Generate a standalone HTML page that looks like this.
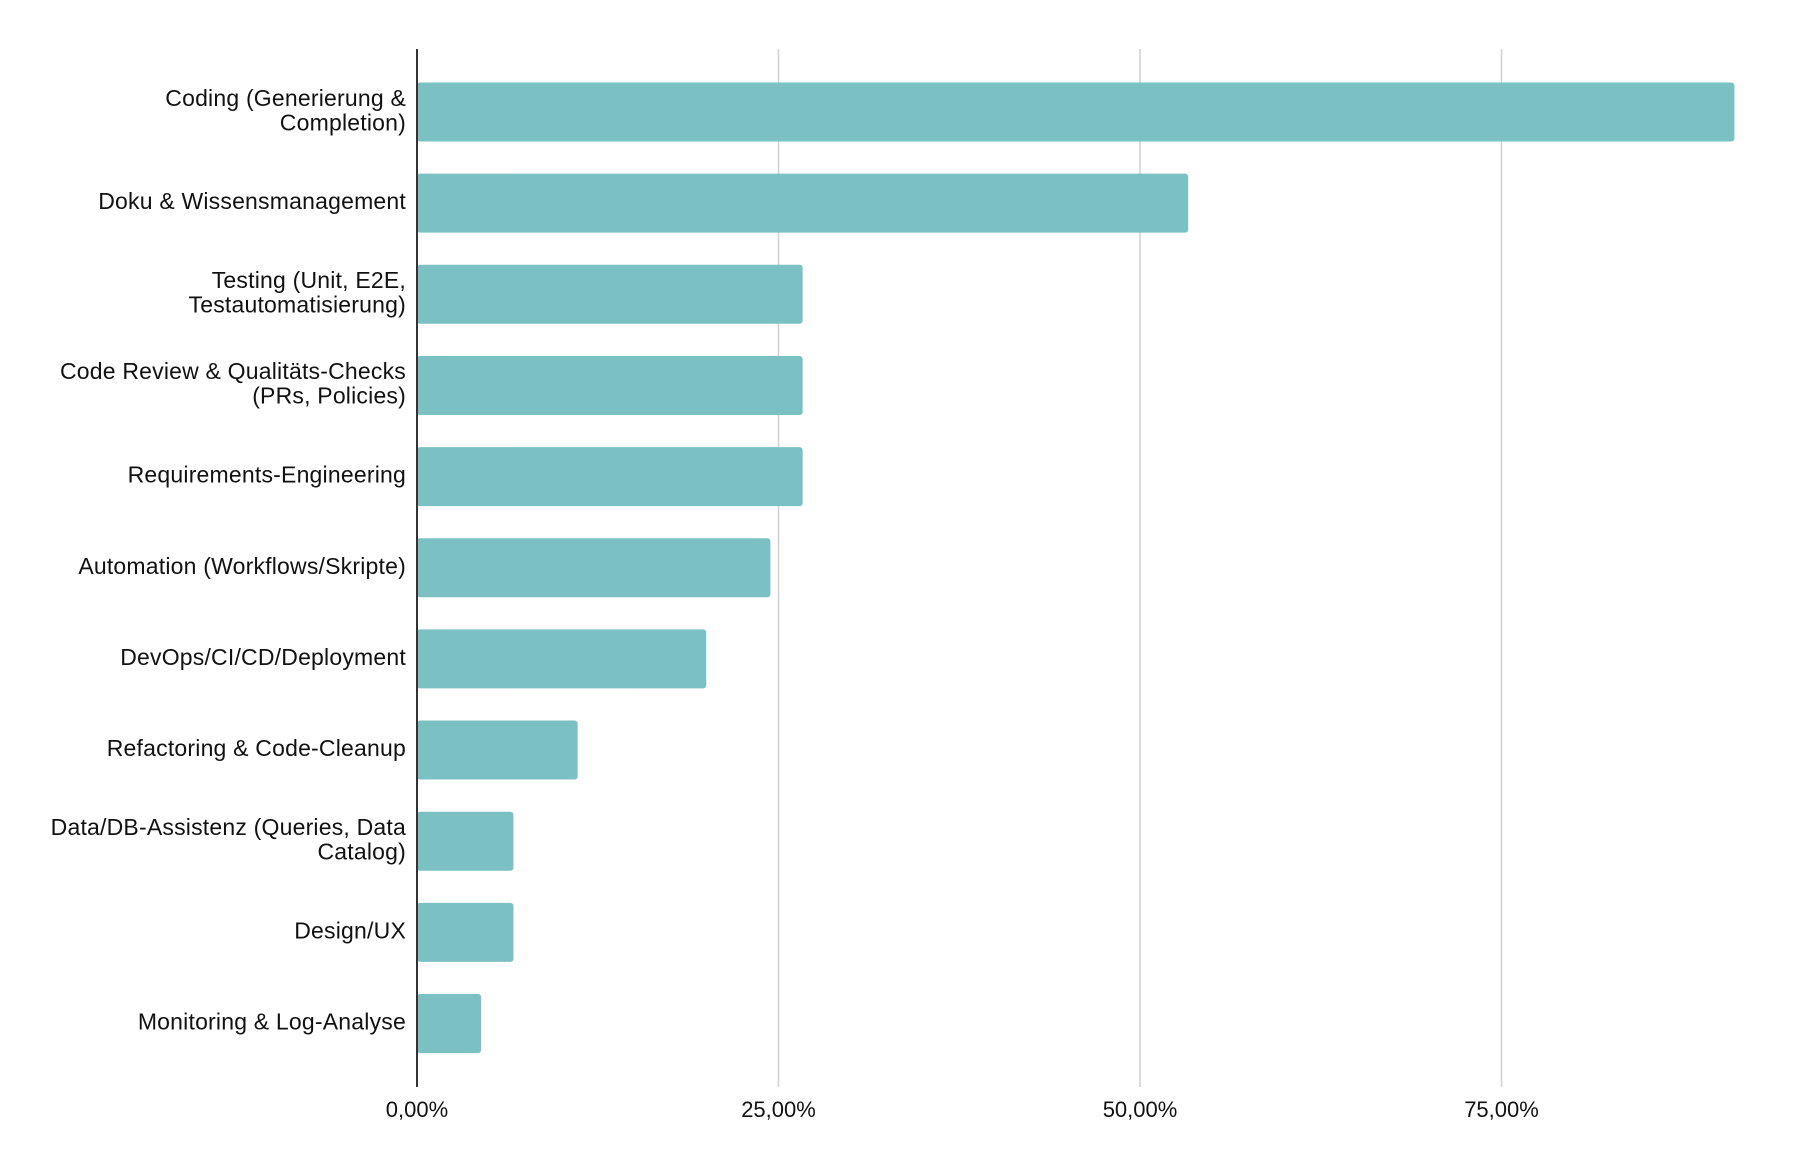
<!DOCTYPE html>
<html><head><meta charset="utf-8"><style>
html,body{margin:0;padding:0;background:#fff;}
svg{display:block;font-family:"Liberation Sans",sans-serif;}
</style></head><body>
<svg id="chart" width="1816" height="1166"></svg>
<script>
const categories=[["Coding (Generierung &","Completion)"],["Doku & Wissensmanagement"],["Testing (Unit, E2E,","Testautomatisierung)"],["Code Review & Qualitäts-Checks","(PRs, Policies)"],["Requirements-Engineering"],["Automation (Workflows/Skripte)"],["DevOps/CI/CD/Deployment"],["Refactoring & Code-Cleanup"],["Data/DB-Assistenz (Queries, Data","Catalog)"],["Design/UX"],["Monitoring & Log-Analyse"]];
const values=[91.11,53.33,26.67,26.67,26.67,24.44,20.0,11.11,6.67,6.67,4.44];
const ticks=[0,25,50,75];
const tickLabels=["0,00%","25,00%","50,00%","75,00%"];
const NS="http://www.w3.org/2000/svg";
const svg=document.getElementById('chart');
const x0=417, pxPer=361.5/25, top0=112, step=91.15, bh=59;
const xs=v=>x0+v*pxPer;
const ys=i=>top0+i*step;
function mk(t,a){const e=document.createElementNS(NS,t);for(const k in a)e.setAttribute(k,a[k]);svg.appendChild(e);return e;}
ticks.forEach((t,i)=>{
  if(t>0){const g=mk('line',{x1:xs(t),x2:xs(t),y1:49,y2:1087,stroke:'#d0d0d0','stroke-width':1.5});
  
  }
  const tx=mk('text',{x:xs(t),y:1117,'text-anchor':'middle','font-size':22,fill:'#111'});
  tx.textContent=tickLabels[i];
  
  
});
values.forEach((v,i)=>{
  const r=mk('rect',{x:x0,y:ys(i)-bh/2,width:xs(v)-x0,height:bh,rx:3,fill:'#7bc0c2'});
  
  
  const lines=categories[i];
  const t=mk('text',{x:406,'text-anchor':'end','font-size':23,fill:'#111','letter-spacing':'0.2'});
  
  
  lines.forEach((l,j)=>{
    const s=document.createElementNS(NS,'tspan');
    s.setAttribute('x',406);
    s.setAttribute('y',ys(i)+6+(j-(lines.length-1)/2)*24.5);
    s.textContent=l;t.appendChild(s);
  });
});
const ax=mk('line',{x1:x0,x2:x0,y1:49,y2:1087,stroke:'#333','stroke-width':2});


</script>
</body></html>
